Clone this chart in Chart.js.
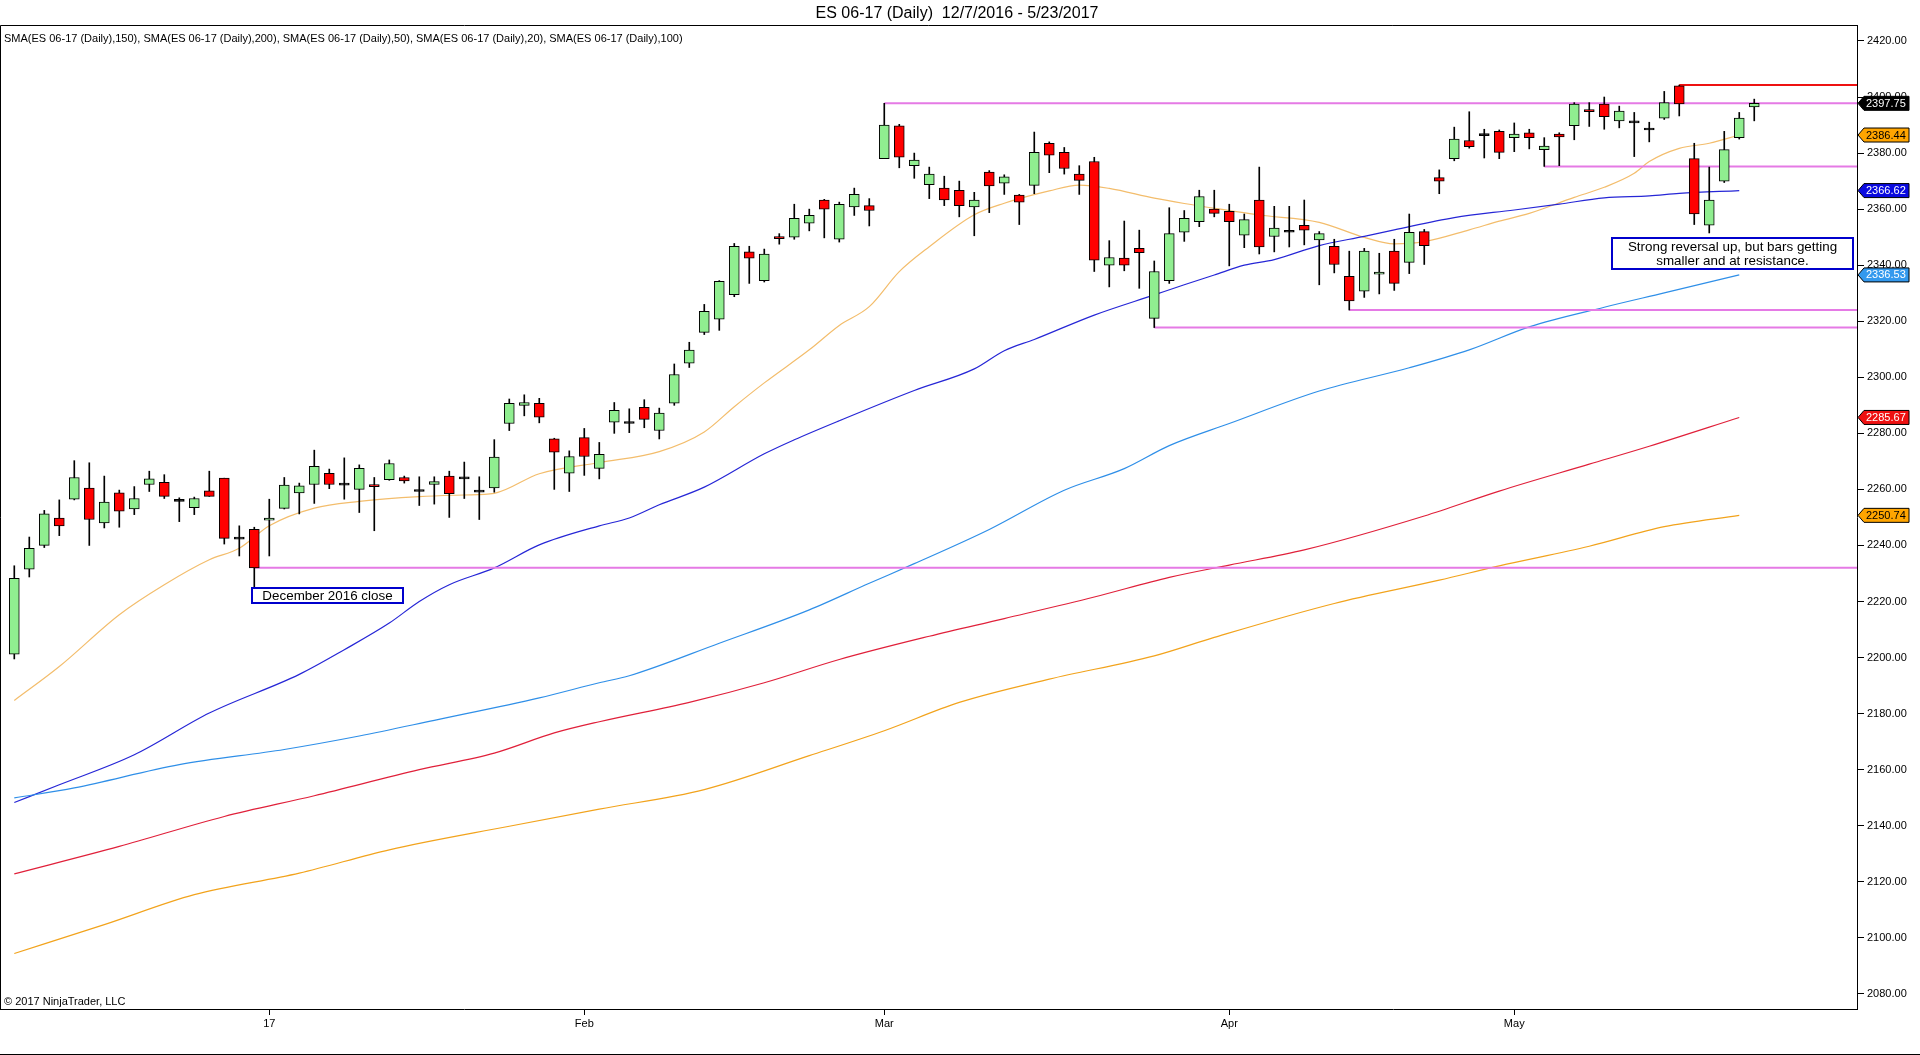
<!DOCTYPE html>
<html>
<head>
<meta charset="UTF-8">
<title>ES 06-17 (Daily)</title>
<script src="https://cdn.jsdelivr.net/npm/chart.js@4.4.0/dist/chart.umd.min.js"></script>
<style>
  html, body { margin: 0; padding: 0; background: #fff; }
  #wrap { width: 1920px; height: 1055px; }
</style>
</head>
<body>
<div id="wrap"><canvas id="myChart" width="1920" height="1055"></canvas></div>

<script>
// trading days, Dec 2016 - May 2017
const daysDec = [7,8,9,12,13,14,15,16,19,20,21,22,23,27,28,29,30];
const daysJan = [3,4,5,6,9,10,11,12,13,16,17,18,19,20,23,24,25,26,27,30,31];
const daysFeb = [1,2,3,6,7,8,9,10,13,14,15,16,17,20,21,22,23,24,27,28];
const daysMar = [1,2,3,6,7,8,9,10,13,14,15,16,17,20,21,22,23,24,27,28,29,30,31];
const daysApr = [3,4,5,6,7,10,11,12,13,17,18,19,20,21,24,25,26,27,28];
const daysMay = [1,2,3,4,5,8,9,10,11,12,15,16,17,18,19,22,23];
const monthLabels = ['17', 'Feb', 'Mar', 'Apr', 'May'];

const yTicks = [2080,2100,2120,2140,2160,2180,2200,2220,2240,2260,2280,2300,2320,2340,2360,2380,2400,2420];

// OHLC, one entry per bar
const open = [2201.25,2231.5,2240,2249.75,2256.5,2260.5,2248,2258.75,2253,2261.75,2262.5,2255.75,2253.5,2259.5,2264,2242.25,2245.75,
  2249,2253.25,2258.75,2261.75,2265.75,2261.5,2260,2261.5,2263.5,2264.25,2259.25,2261.75,2264.75,2263.75,2259,2260.5,2283.5,2290,2290.75,2278,2265.75,
  2278.5,2267.5,2284,2283.5,2289.25,2281,2290.75,2305,2316,2320.75,2329.5,2344.75,2334.5,2350.25,2350,2355,2363.25,2349.25,2360.75,2361.25,
  2378,2389.75,2375.5,2368.75,2367.5,2366.75,2360.75,2373.25,2369.25,2365,2368.5,2383.5,2380.25,2372.5,2377,2340,2342.5,2346,2321,2334.5,2351.75,2355.5,2360,
  2359.25,2350.75,2363.25,2350.25,2351.75,2354.25,2349,2346.75,2336,2330.75,2336.75,2345,2341,2352,2371.25,2378,2384.5,2386.25,2387.75,
  2385.5,2387.25,2381.25,2386.75,2389.75,2395.5,2397.5,2391.5,2390.75,2388.25,2392.5,2404,2378,2354.25,2370,2385.5,2396.5];
const high = [2232.75,2243,2252.5,2256.25,2270.25,2269.5,2264.75,2259.75,2261,2266.5,2265.25,2257,2257.25,2266.5,2264,2247,2246.5,
  2256.5,2264.25,2262.25,2274,2267.25,2271.25,2268.75,2264.25,2270.5,2264.75,2264.5,2264.5,2266.5,2269.75,2264.5,2277.75,2292.25,2293.75,2292.5,2278.25,2273.75,
  2281.75,2276.75,2291,2288.75,2292,2289,2304.75,2312.5,2326,2334.5,2347.75,2346.75,2345.75,2351.25,2361.75,2360,2363.5,2362.5,2367.5,2363.75,
  2397.75,2390.25,2380,2375,2371.75,2370,2366,2373.75,2372.25,2365.25,2387.5,2384,2382,2375.5,2378.5,2348.75,2355.75,2352.5,2341.5,2360.5,2359.5,2366.75,2366.75,
  2361.75,2358.25,2375,2361,2361,2363.25,2352,2349.25,2345,2346,2344.25,2349.25,2358.25,2352.75,2374,2389.25,2394.75,2388.5,2388.25,
  2390.75,2388.5,2385.5,2387.25,2398,2398,2400,2396.75,2394.5,2391,2402,2404.25,2383.5,2375,2387.75,2394.5,2399.25];
const low = [2199.5,2228.75,2239.25,2243.5,2256.25,2240,2246.25,2246.5,2251,2259.25,2256.75,2248.5,2251,2257.5,2240.5,2236.25,2225.25,
  2236.25,2253,2251.25,2255,2260.25,2256.5,2251.75,2245.25,2263.25,2262.25,2254.25,2254.75,2250,2256.75,2249.25,2259,2281,2286.25,2283.75,2260,2259.25,
  2265,2263.75,2280,2280.25,2282,2278,2290,2303.5,2315.25,2316.75,2328.75,2333.5,2334,2347.5,2349.25,2352.25,2349.75,2348.25,2357.75,2354,
  2378,2374.75,2371,2363.75,2361.25,2357.25,2350.5,2358.75,2365.25,2354.5,2365.5,2373,2372.5,2365.25,2337.75,2332.25,2338,2331.75,2317.75,2333.5,2348.5,2353.75,2357.25,
  2339.75,2346.25,2344,2344.75,2346.5,2347.25,2333,2337.25,2324,2328.5,2329.75,2331,2337,2340.25,2365.5,2377.25,2381.75,2378.25,2378,
  2380.5,2381.5,2375.25,2375.5,2384.75,2389.5,2388.5,2389,2378.75,2384,2392,2393.25,2354.5,2351.5,2369.5,2385,2391.5];
const close = [2228.25,2239,2251.25,2247,2264.25,2249.25,2255.5,2252.25,2256.75,2263.75,2257.5,2255.75,2256.75,2257.5,2242.5,2242.25,2232,
  2249.75,2261.5,2261.25,2268.25,2261.75,2261.5,2267.5,2261,2269.25,2263,2259.25,2262.75,2258.5,2263.75,2259,2271.5,2290.75,2291,2285.75,2273.25,2271.75,
  2271.75,2272.5,2288.25,2283.5,2285,2287.25,2301,2309.75,2323.5,2334.25,2346.75,2342.5,2344,2349.5,2356.75,2357.75,2360,2361.75,2365.25,2359.5,
  2390,2378.5,2377.5,2372.5,2363.25,2361.25,2363.25,2368.25,2371.5,2362.5,2380.25,2379.25,2374.5,2370.25,2341.75,2342.75,2340,2344.5,2337.75,2351.25,2356.75,2364.5,2358.5,
  2355.5,2356.25,2346.5,2353.25,2351.75,2352.5,2351.25,2340.25,2327.25,2345,2337.5,2333.5,2351.75,2347,2370,2385,2382.25,2386.25,2380.25,
  2386.75,2385.5,2382.5,2385.75,2397.5,2394.75,2393,2395,2390.75,2388.25,2398,2397.5,2358.25,2363.25,2381.25,2392.5,2397.75];

// moving averages, read at these bar numbers
const sma20Bars = [0,3,7,10,13,15,17,20,23,27,30,32,35,39,43,46,48,50,53,55,57,59,61,64,66,69,71,73,76,78,81,83,87,90,92,94,97,99,101,104,106,108,109,111,113,115];
const sma20 = [2184.7,2196.8,2215.3,2226.0,2234.9,2239.0,2247.0,2253.3,2255.7,2257.4,2258.0,2258.6,2265.6,2269.6,2273.5,2280.5,2289.5,2298.0,2309.8,2318.5,
  2325.2,2337.7,2346.6,2358.0,2362.1,2366.5,2368.6,2367.4,2363.9,2362.0,2359.5,2357.9,2355.3,2349.9,2347.6,2348.4,2352.6,2355.7,2358.5,2364.2,2367.8,2372.8,2377.0,2381.7,2383.5,2386.44];
const sma50Bars = [0,3,8,13,19,22,25,27,29,32,35,39,41,43,46,50,52,55,60,64,66,68,72,76,78,80,82,84,87,90,92,96,100,103,106,109,111,115];
const sma50 = [2148.3,2154.6,2165.3,2180.2,2194.0,2202.8,2212.3,2220.0,2226.0,2232.0,2240.2,2247.0,2249.8,2254.5,2260.8,2272.7,2277.7,2284.5,2295.3,2303.0,
  2309.5,2313.5,2322.2,2329.4,2333.0,2336.5,2340.0,2342.0,2347.0,2350.3,2352.6,2357.0,2359.7,2361.8,2364.0,2364.7,2365.6,2366.62];
const sma100Bars = [0,4,11,18,23,28,35,39,41,47,53,57,60,65,70,74,77,81,87,93,97,101,106,110,115];
const sma100 = [2149.9,2153.5,2161.8,2167.2,2172.0,2177.6,2185.6,2191.0,2193.5,2205.1,2217.0,2226.5,2233.5,2245.7,2259.7,2267.4,2275.6,2283.5,2295.1,2303.4,
  2309.8,2318.0,2325.0,2330.1,2336.53];
const sma150Bars = [0,7,14,20,27,32,36,39,45,50,55,61,66,72,77,81,86,94,99,105,109,115];
const sma150 = [2122.8,2132.6,2143.3,2150.7,2160.0,2165.9,2173.1,2177.1,2184.0,2191.0,2199.3,2207.6,2213.9,2221.6,2228.6,2233.0,2238.4,2250.5,2259.4,2269.0,2275.4,2285.67];
const sma200Bars = [0,6,12,19,25,33,39,46,53,58,63,69,76,80,88,95,99,105,110,115];
const sma200 = [2094.4,2104.7,2115.4,2123.1,2131.4,2139.8,2145.9,2152.9,2165.0,2173.9,2184.0,2192.3,2200.6,2207.2,2219.3,2227.6,2232.7,2239.7,2246.7,2250.74];

// horizontal levels: start bar and price
const levelBars = [58, 102, 89, 76, 16];
const levelPrices = [2397.75, 2375.25, 2324, 2317.75, 2232];
const redLevelBar = 111;
const redLevelPrice = 2404.25;
</script>

<script>
  const FONT = '"Liberation Sans", Arial, sans-serif';
  const X_MIN = -0.953, X_MAX = 122.85;

  // first bar of each month
  let monthStarts = [];
  let n = 0;
  [daysDec, daysJan, daysFeb, daysMar, daysApr].forEach(function(m) {
    n += m.length;
    monthStarts.push(n);
  });

  const bars = close.map(function(c, i) { return i; });

  const bodyColors = bars.map(function(i) {
    if (close[i] > open[i]) return '#90ee90';
    if (close[i] < open[i]) return '#ff0000';
    return '#000000';
  });

  function pts(xs, ys) {
    return xs.map(function(x, k) { return {x: x, y: ys[k]}; });
  }

  function maLine(xs, ys, color) {
    return {
      type: 'line', data: pts(xs, ys), borderColor: color, borderWidth: 1.2,
      pointRadius: 0, fill: false, cubicInterpolationMode: 'monotone', order: 5
    };
  }

  function levelLine(bar, price, color) {
    return {
      type: 'line', data: [{x: bar, y: price}, {x: X_MAX, y: price}],
      borderColor: color, borderWidth: 2, pointRadius: 0, fill: false, order: 4
    };
  }

  let datasets = [
    maLine(sma200Bars, sma200, '#f2a31c'),
    maLine(sma150Bars, sma150, '#e0203a'),
    maLine(sma100Bars, sma100, '#2f8fe8'),
    maLine(sma50Bars, sma50, '#2626d6'),
    maLine(sma20Bars, sma20, '#f3bd6c')
  ];
  levelBars.forEach(function(b, k) {
    datasets.push(levelLine(b, levelPrices[k], '#e57ae5'));
  });
  datasets.push(levelLine(redLevelBar, redLevelPrice, '#ee1111'));

  // wicks
  datasets.push({
    type: 'bar', data: bars.map(function(i) { return {x: i, y: [low[i], high[i]]}; }),
    backgroundColor: '#000', barThickness: 1, grouped: false, order: 3
  });
  // bodies
  datasets.push({
    type: 'bar', data: bars.map(function(i) { return {x: i, y: [open[i], close[i]]}; }),
    backgroundColor: bodyColors, borderColor: '#000', borderWidth: 1, borderSkipped: false,
    barThickness: 10, minBarLength: 2, grouped: false, order: 2
  });

  function drawBox(ctx, x, y, w, h, lines, lineY) {
    ctx.fillStyle = '#fff';
    ctx.fillRect(x, y, w, h);
    ctx.strokeStyle = '#0000cc';
    ctx.lineWidth = 2;
    ctx.strokeRect(x, y, w, h);
    ctx.fillStyle = '#000';
    ctx.font = '13.4px ' + FONT;
    ctx.textAlign = 'center';
    ctx.textBaseline = 'middle';
    lines.forEach(function(t, k) { ctx.fillText(t, x + w / 2, lineY[k]); });
  }

  function valueTag(ctx, y, value, fill, textColor) {
    const x0 = 1858, x1 = 1909, h = 7;
    ctx.beginPath();
    ctx.moveTo(x0, y);
    ctx.lineTo(x0 + 6, y - h);
    ctx.lineTo(x1, y - h);
    ctx.lineTo(x1, y + h);
    ctx.lineTo(x0 + 6, y + h);
    ctx.closePath();
    ctx.fillStyle = fill;
    ctx.fill();
    ctx.strokeStyle = '#000';
    ctx.lineWidth = 1;
    ctx.stroke();
    ctx.fillStyle = textColor;
    ctx.font = '11px ' + FONT;
    ctx.textAlign = 'left';
    ctx.textBaseline = 'middle';
    ctx.fillText(value.toFixed(2), 1866, y + 0.5);
  }

  const decorations = {
    id: 'decorations',
    afterDatasetsDraw: function(chart) {
      const ctx = chart.ctx;
      ctx.save();
      drawBox(ctx, 252, 588, 151, 15, ['December 2016 close'], [596.5]);
      drawBox(ctx, 1612, 238, 241, 31, ['Strong reversal up, but bars getting', 'smaller and at resistance.'], [247.5, 261]);
      ctx.restore();
    },
    afterDraw: function(chart) {
      const ctx = chart.ctx;
      const a = chart.chartArea;
      const y = chart.scales.y;
      ctx.save();
      // frame
      ctx.strokeStyle = '#000';
      ctx.lineWidth = 1;
      ctx.beginPath();
      ctx.moveTo(0.5, a.bottom);
      ctx.lineTo(0.5, a.top + 0.5);
      ctx.lineTo(a.right, a.top + 0.5);
      ctx.moveTo(0, 1054.5);
      ctx.lineTo(1920, 1054.5);
      ctx.stroke();

      ctx.fillStyle = '#000';
      ctx.textBaseline = 'middle';
      ctx.font = '16px ' + FONT;
      ctx.textAlign = 'center';
      ctx.fillText('ES 06-17 (Daily)  12/7/2016 - 5/23/2017', 957, 13.5);
      ctx.font = '11px ' + FONT;
      ctx.textAlign = 'left';
      ctx.fillText('SMA(ES 06-17 (Daily),150), SMA(ES 06-17 (Daily),200), SMA(ES 06-17 (Daily),50), SMA(ES 06-17 (Daily),20), SMA(ES 06-17 (Daily),100)', 4, 39);
      ctx.fillText('\u00a9 2017 NinjaTrader, LLC', 4, 1002);

      // last values on the price axis
      valueTag(ctx, y.getPixelForValue(sma200[sma200.length - 1]), sma200[sma200.length - 1], '#ffa500', '#000');
      valueTag(ctx, y.getPixelForValue(sma150[sma150.length - 1]), sma150[sma150.length - 1], '#ee1111', '#fff');
      valueTag(ctx, y.getPixelForValue(sma100[sma100.length - 1]), sma100[sma100.length - 1], '#3399ee', '#fff');
      valueTag(ctx, y.getPixelForValue(sma50[sma50.length - 1]), sma50[sma50.length - 1], '#0a0ae0', '#fff');
      valueTag(ctx, y.getPixelForValue(sma20[sma20.length - 1]), sma20[sma20.length - 1], '#ffa500', '#000');
      valueTag(ctx, y.getPixelForValue(close[close.length - 1]), close[close.length - 1], '#000', '#fff');
      ctx.restore();
    }
  };

  new Chart('myChart', {
    type: 'bar',
    data: { datasets: datasets },
    plugins: [decorations],
    options: {
      responsive: false,
      animation: false,
      events: [],
      layout: { padding: { top: 25, left: 0, right: 0, bottom: 0 } },
      plugins: { legend: { display: false }, tooltip: { enabled: false }, title: { display: false } },
      scales: {
        x: {
          type: 'linear', min: X_MIN, max: X_MAX, offset: false,
          grid: { display: true, drawOnChartArea: false, offset: false, tickLength: 6, color: '#000' },
          border: { display: true, color: '#000', width: 1 },
          afterBuildTicks: function(axis) {
            axis.ticks = monthStarts.map(function(v) { return {value: v}; });
          },
          afterFit: function(axis) { axis.height = 46; },
          ticks: {
            autoSkip: false, maxRotation: 0, padding: 2, color: '#000',
            font: { family: FONT, size: 11 },
            callback: function(value) {
              const k = monthStarts.indexOf(value);
              return k >= 0 ? monthLabels[k] : '';
            }
          }
        },
        y: {
          type: 'linear', position: 'right', min: 2074.6, max: 2425.7,
          grid: { display: true, drawOnChartArea: false, tickLength: 7, color: '#000' },
          border: { display: true, color: '#000', width: 1 },
          afterBuildTicks: function(axis) {
            axis.ticks = yTicks.map(function(v) { return {value: v}; });
          },
          afterFit: function(axis) { axis.width = 63; },
          ticks: {
            padding: 3, color: '#000',
            font: { family: FONT, size: 11 },
            callback: function(value) { return Number(value).toFixed(2); }
          }
        }
      }
    }
  });
</script>
</body>
</html>
